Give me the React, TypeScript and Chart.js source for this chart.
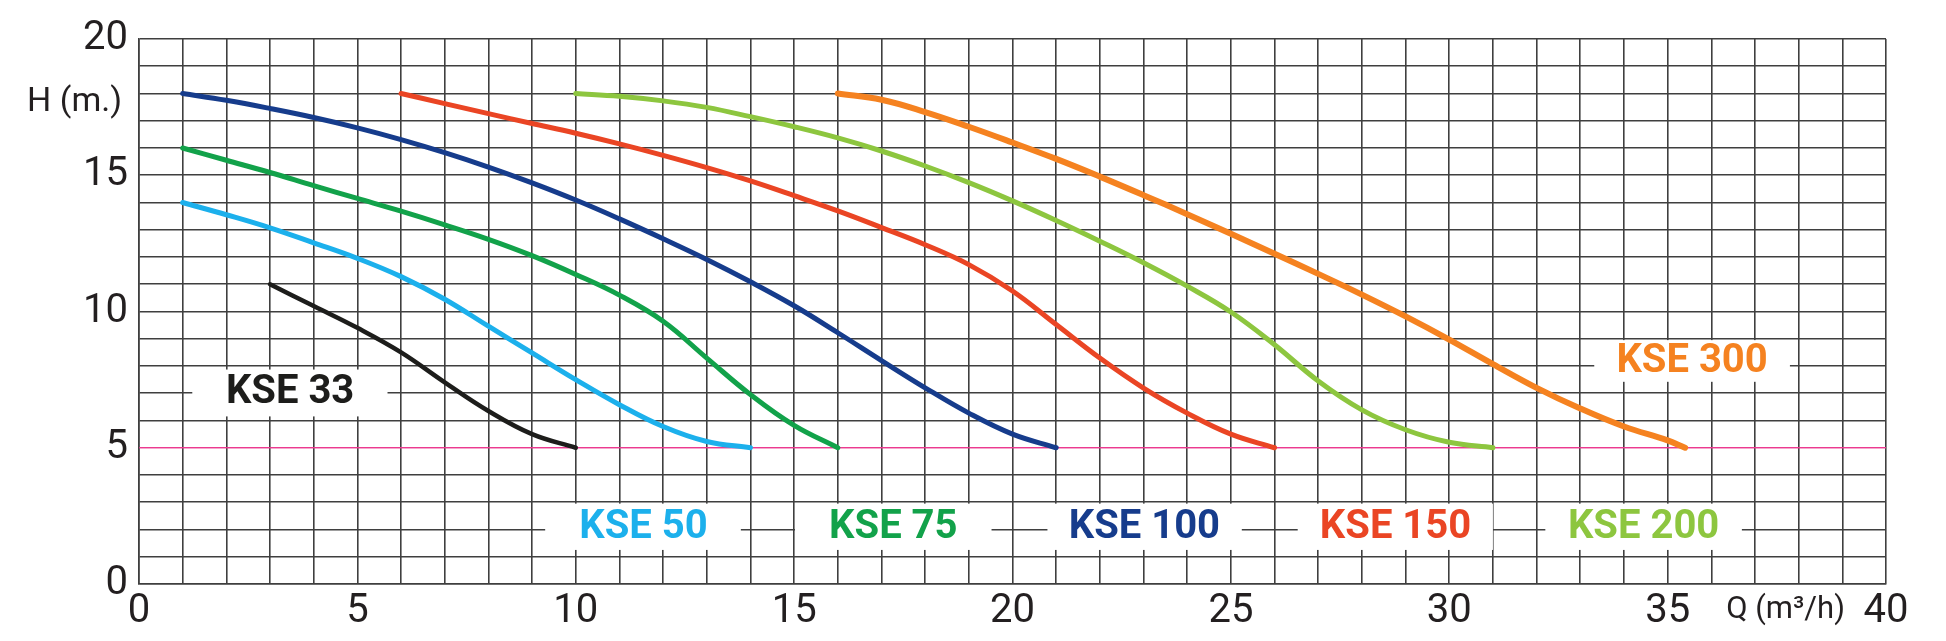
import React, { useEffect, useRef } from 'react';
import { Chart, registerables } from 'chart.js';
import type { Plugin } from 'chart.js';

Chart.register(...registerables);

// pump curves: flow Q (m3/h) and head H (m)
const kse33Q = [3, 4, 5, 6, 7, 8, 9, 10];
const kse33H = [11, 10.2, 9.4, 8.5, 7.4, 6.35, 5.5, 5];

const kse50Q = [1, 2, 3, 4, 5, 6, 7, 8, 9, 10, 11, 12, 13, 14];
const kse50H = [14, 13.55, 13.07, 12.52, 11.95, 11.28, 10.45, 9.46, 8.48, 7.5, 6.58, 5.78, 5.23, 5];

const kse75Q = [1, 2, 3, 4, 5, 6, 7, 8, 9, 10, 11, 12, 13, 14, 15, 16];
const kse75H = [16, 15.55, 15.1, 14.62, 14.15, 13.68, 13.18, 12.65, 12.05, 11.36, 10.6, 9.64, 8.29, 6.95, 5.82, 5];

const kse100Q = [1, 2, 3, 4, 5, 6, 7, 8, 9, 10, 11, 12, 13, 14, 15, 16, 17, 18, 19, 20, 21];
const kse100H = [18, 17.75, 17.45, 17.12, 16.74, 16.31, 15.83, 15.3, 14.72, 14.09, 13.4, 12.67, 11.91, 11.09, 10.21, 9.22, 8.2, 7.2, 6.27, 5.5, 5];

const kse150Q = [6, 7, 8, 9, 10, 11, 12, 13, 14, 15, 16, 17, 18, 19, 20, 21, 22, 23, 24, 25, 26];
const kse150H = [18, 17.63, 17.26, 16.9, 16.54, 16.15, 15.73, 15.28, 14.79, 14.25, 13.69, 13.08, 12.45, 11.72, 10.75, 9.52, 8.29, 7.19, 6.27, 5.5, 5];

const kse200Q = [10, 11, 12, 13, 14, 15, 16, 17, 18, 19, 20, 21, 22, 23, 24, 25, 26, 27, 28, 29, 30, 31];
const kse200H = [18, 17.9, 17.73, 17.49, 17.15, 16.78, 16.37, 15.89, 15.34, 14.73, 14.06, 13.34, 12.58, 11.79, 10.93, 9.98, 8.78, 7.45, 6.39, 5.66, 5.2, 5];

const kse300Q = [16, 17, 18, 19, 20, 21, 22, 23, 24, 25, 26, 27, 28, 29, 30, 31, 32, 33, 34, 35, 35.4];
const kse300H = [18, 17.77, 17.32, 16.78, 16.2, 15.6, 14.95, 14.27, 13.57, 12.85, 12.12, 11.38, 10.62, 9.82, 8.97, 8.07, 7.2, 6.44, 5.78, 5.27, 5];

const minHead = 5;

const curves = [
  { name: 'KSE 33', q: kse33Q, h: kse33H, color: '#1d1d1b', width: 4.5 },
  { name: 'KSE 50', q: kse50Q, h: kse50H, color: '#1cb0ec', width: 5 },
  { name: 'KSE 75', q: kse75Q, h: kse75H, color: '#12a24a', width: 5 },
  { name: 'KSE 100', q: kse100Q, h: kse100H, color: '#163c8c', width: 5 },
  { name: 'KSE 150', q: kse150Q, h: kse150H, color: '#ea4524', width: 5 },
  { name: 'KSE 200', q: kse200Q, h: kse200H, color: '#8dc63f', width: 5 },
  { name: 'KSE 300', q: kse300Q, h: kse300H, color: '#f58220', width: 6 },
];

// label tags, in data units: text centre and white box extent
const tags = [
  { name: 'KSE 33', color: '#1d1d1b', cx: 3.46, cy: 7.0, x0: 1.22, x1: 5.69, y0: 6.15, y1: 7.87 },
  { name: 'KSE 50', color: '#1cb0ec', cx: 11.55, cy: 2.05, x0: 9.3, x1: 13.78, y0: 1.25, y1: 2.95 },
  { name: 'KSE 75', color: '#12a24a', cx: 17.27, cy: 2.05, x0: 15.02, x1: 19.52, y0: 1.25, y1: 2.95 },
  { name: 'KSE 100', color: '#163c8c', cx: 23.02, cy: 2.05, x0: 20.8, x1: 25.25, y0: 1.25, y1: 2.95 },
  { name: 'KSE 150', color: '#ea4524', cx: 28.77, cy: 2.05, x0: 26.53, x1: 31.0, y0: 1.25, y1: 2.95 },
  { name: 'KSE 200', color: '#8dc63f', cx: 34.45, cy: 2.05, x0: 32.2, x1: 36.7, y0: 1.25, y1: 2.95 },
  { name: 'KSE 300', color: '#f58220', cx: 35.56, cy: 8.15, x0: 33.32, x1: 37.8, y0: 7.42, y1: 8.95 },
];

const gridColor = '#3f3f3f';
const textColor = '#231f20';

const tagPlugin: Plugin<'line'> = {
  id: 'tags',
  beforeDatasetsDraw(chart) {
    const { ctx, scales } = chart;
    const x = scales.x;
    const y = scales.y;
    ctx.save();
    ctx.fillStyle = '#ffffff';
    tags.forEach((t) => {
      const l = x.getPixelForValue(t.x0);
      const r = x.getPixelForValue(t.x1);
      const top = y.getPixelForValue(t.y1);
      const bot = y.getPixelForValue(t.y0);
      ctx.fillRect(l, top, r - l, bot - top);
    });
    // minimum head line
    const py = y.getPixelForValue(minHead);
    ctx.strokeStyle = '#ec3b8f';
    ctx.lineWidth = 1.2;
    ctx.beginPath();
    ctx.moveTo(chart.chartArea.left, py);
    ctx.lineTo(chart.chartArea.right, py);
    ctx.stroke();
    ctx.restore();
  },
  afterDatasetsDraw(chart) {
    const { ctx, scales } = chart;
    const x = scales.x;
    const y = scales.y;
    ctx.save();
    ctx.textAlign = 'center';
    ctx.textBaseline = 'middle';
    ctx.font = 'bold 40px Roboto';
    tags.forEach((t) => {
      ctx.fillStyle = t.color;
      ctx.fillText(t.name, x.getPixelForValue(t.cx), y.getPixelForValue(t.cy));
    });
    ctx.restore();
  },
  afterDraw(chart) {
    const { ctx, scales } = chart;
    ctx.save();
    ctx.fillStyle = textColor;
    ctx.textBaseline = 'middle';
    ctx.textAlign = 'right';
    ctx.font = '34px Roboto';
    ctx.fillText('H (m.)', 122, 102);
    ctx.textAlign = 'center';
    ctx.font = '31px Roboto';
    ctx.fillText('Q (m³/h)', scales.x.getPixelForValue(37.7), 610);
    ctx.restore();
  },
};

export default function App() {
  const canvasRef = useRef<HTMLCanvasElement>(null);

  useEffect(() => {
    if (!canvasRef.current) return;
    const chart = new Chart(canvasRef.current, {
      type: 'line',
      data: {
        datasets: curves.map((c) => ({
          label: c.name,
          data: c.q.map((q, i) => ({ x: q, y: c.h[i] })),
          borderColor: c.color,
          borderWidth: c.width,
          borderCapStyle: 'round' as const,
          borderJoinStyle: 'round' as const,
          pointRadius: 0,
          tension: 0.4,
          fill: false,
        })),
      },
      options: {
        animation: false,
        responsive: true,
        maintainAspectRatio: false,
        layout: { padding: { top: 39, right: 60, left: 0, bottom: 0 } },
        plugins: { legend: { display: false }, tooltip: { enabled: false } },
        scales: {
          x: {
            type: 'linear',
            min: 0,
            max: 40,
            afterFit: (axis) => { axis.height = 57; },
            grid: { color: gridColor, lineWidth: 1.6, drawTicks: false },
            border: { color: gridColor, width: 1.6 },
            ticks: {
              stepSize: 1,
              autoSkip: false,
              maxRotation: 0,
              padding: 4,
              color: textColor,
              font: { family: 'Roboto', size: 40 },
              callback: (v) => (Number(v) % 5 === 0 ? String(v) : ''),
            },
          },
          y: {
            type: 'linear',
            min: 0,
            max: 20,
            afterFit: (axis) => { axis.width = 139; },
            grid: {
              color: (c) => (c.tick && c.tick.value === minHead ? '#ec3b8f' : gridColor),
              lineWidth: (c) => (c.tick && c.tick.value === minHead ? 1.2 : 1.6),
              drawTicks: false,
            },
            border: { color: gridColor, width: 1.6 },
            ticks: {
              stepSize: 1,
              autoSkip: false,
              padding: 11,
              color: textColor,
              font: { family: 'Roboto', size: 40 },
              callback: (v) => (Number(v) % 5 === 0 ? String(v) : ''),
            },
          },
        },
      },
      plugins: [tagPlugin],
    });
    return () => chart.destroy();
  }, []);

  return (
    <div style={{ position: 'absolute', left: 0, top: 0, width: 1946, height: 641, background: '#fff' }}>
      <canvas ref={canvasRef} role="img" aria-label="KSE pump curves, head vs flow" />
    </div>
  );
}
